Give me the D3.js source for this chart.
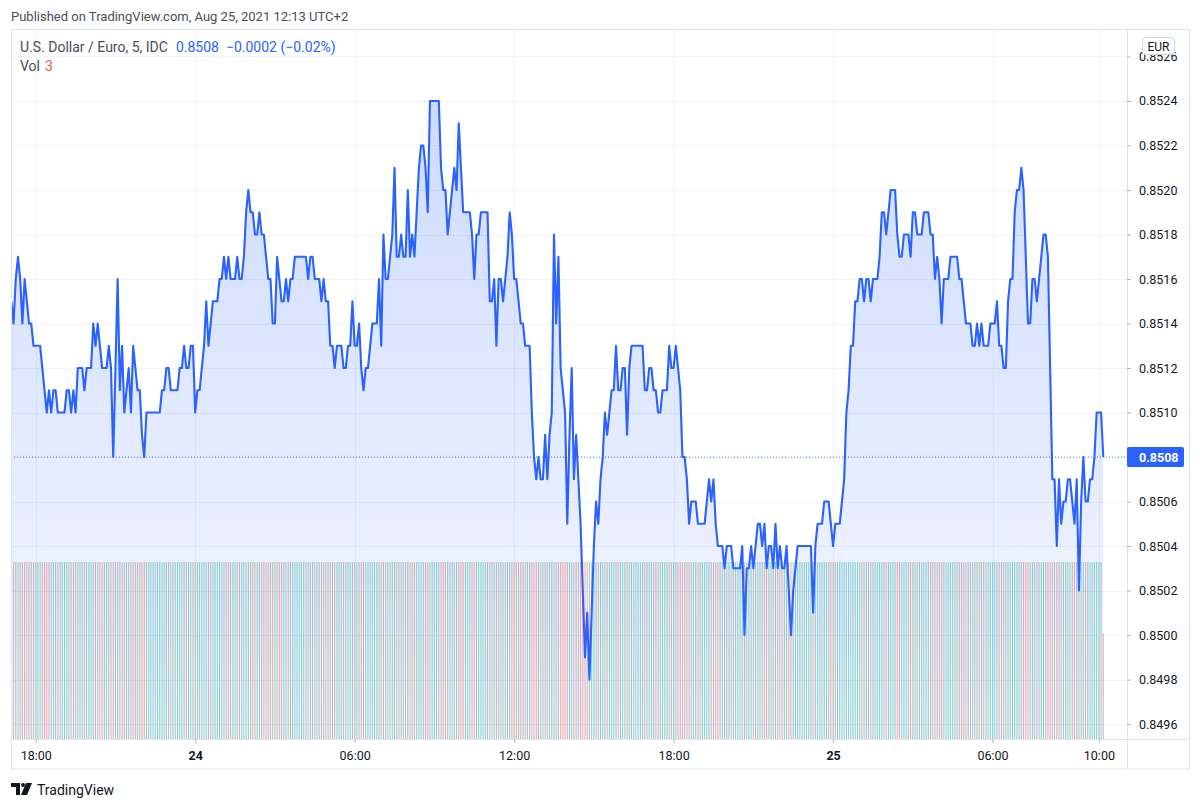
<!DOCTYPE html>
<html><head><meta charset="utf-8">
<script src="https://cdn.jsdelivr.net/npm/d3@7"></script>
<style>
html,body{margin:0;padding:0;background:#fff;}
svg{display:block;font-family:Roboto,"Noto Sans",sans-serif;}
</style></head><body>
<svg id="c" width="1200" height="808"></svg>
<script>
// ---- data (5-minute bars, USD/EUR close, Aug 23 17:05 -> Aug 25 10:10 UTC+2) ----
const firstBar = "2021-08-23T17:05";
const closes = [
0.8515,0.8514,0.8516,0.8517,0.8516,0.8514,0.8516,0.8515,0.8514,0.8514,
0.8513,0.8513,0.8513,0.8513,0.8512,0.8511,0.8510,0.8511,0.8510,0.8511,
0.8511,0.8510,0.8510,0.8510,0.8510,0.8511,0.8511,0.8510,0.8511,0.8510,
0.8512,0.8512,0.8512,0.8511,0.8512,0.8512,0.8512,0.8514,0.8513,0.8514,
0.8513,0.8512,0.8512,0.8512,0.8513,0.8512,0.8508,0.8512,0.8516,0.8511,
0.8513,0.8510,0.8511,0.8512,0.8510,0.8513,0.8512,0.8511,0.8511,0.8509,
0.8508,0.8510,0.8510,0.8510,0.8510,0.8510,0.8510,0.8510,0.8511,0.8511,
0.8512,0.8512,0.8511,0.8511,0.8511,0.8511,0.8512,0.8512,0.8513,0.8512,
0.8512,0.8513,0.8513,0.8510,0.8511,0.8511,0.8512,0.8513,0.8515,0.8513,
0.8514,0.8515,0.8515,0.8515,0.8516,0.8516,0.8517,0.8516,0.8517,0.8516,
0.8516,0.8516,0.8517,0.8516,0.8516,0.8517,0.8519,0.8520,0.8519,0.8519,
0.8518,0.8518,0.8519,0.8518,0.8518,0.8517,0.8516,0.8516,0.8514,0.8514,
0.8517,0.8516,0.8515,0.8515,0.8516,0.8515,0.8516,0.8516,0.8517,0.8517,
0.8517,0.8517,0.8517,0.8517,0.8516,0.8517,0.8517,0.8516,0.8516,0.8516,
0.8515,0.8516,0.8515,0.8515,0.8513,0.8513,0.8512,0.8513,0.8513,0.8513,
0.8512,0.8512,0.8513,0.8513,0.8515,0.8513,0.8513,0.8514,0.8512,0.8511,
0.8512,0.8512,0.8513,0.8514,0.8514,0.8514,0.8516,0.8513,0.8518,0.8516,
0.8516,0.8517,0.8518,0.8521,0.8517,0.8517,0.8518,0.8517,0.8517,0.8520,
0.8517,0.8518,0.8517,0.8519,0.8521,0.8522,0.8522,0.8521,0.8519,0.8524,
0.8524,0.8524,0.8524,0.8524,0.8521,0.8520,0.8520,0.8518,0.8519,0.8520,
0.8521,0.8520,0.8523,0.8521,0.8519,0.8519,0.8519,0.8519,0.8518,0.8516,
0.8518,0.8518,0.8519,0.8519,0.8519,0.8519,0.8515,0.8515,0.8516,0.8513,
0.8516,0.8516,0.8515,0.8516,0.8517,0.8519,0.8518,0.8516,0.8516,0.8515,
0.8514,0.8514,0.8513,0.8513,0.8513,0.8510,0.8508,0.8507,0.8508,0.8507,
0.8507,0.8509,0.8507,0.8509,0.8510,0.8518,0.8514,0.8517,0.8512,0.8511,
0.8510,0.8505,0.8509,0.8512,0.8507,0.8509,0.8507,0.8505,0.8502,0.8499,
0.8501,0.8498,0.8501,0.8504,0.8506,0.8505,0.8507,0.8508,0.8510,0.8509,
0.8510,0.8511,0.8511,0.8513,0.8511,0.8511,0.8512,0.8512,0.8509,0.8512,
0.8513,0.8513,0.8513,0.8513,0.8513,0.8513,0.8511,0.8511,0.8512,0.8512,
0.8511,0.8511,0.8510,0.8510,0.8511,0.8511,0.8511,0.8513,0.8512,0.8512,
0.8513,0.8512,0.8511,0.8508,0.8508,0.8507,0.8505,0.8506,0.8506,0.8506,
0.8505,0.8505,0.8505,0.8505,0.8506,0.8507,0.8506,0.8507,0.8505,0.8504,
0.8504,0.8504,0.8503,0.8504,0.8504,0.8504,0.8503,0.8503,0.8503,0.8503,
0.8504,0.8500,0.8503,0.8503,0.8504,0.8503,0.8504,0.8505,0.8505,0.8504,
0.8505,0.8503,0.8504,0.8504,0.8503,0.8505,0.8503,0.8504,0.8503,0.8503,
0.8504,0.8502,0.8500,0.8502,0.8503,0.8504,0.8504,0.8504,0.8504,0.8504,
0.8504,0.8504,0.8501,0.8504,0.8505,0.8505,0.8505,0.8506,0.8506,0.8506,
0.8505,0.8504,0.8505,0.8505,0.8505,0.8506,0.8507,0.8510,0.8511,0.8513,
0.8513,0.8515,0.8515,0.8516,0.8516,0.8515,0.8516,0.8516,0.8515,0.8516,
0.8516,0.8516,0.8517,0.8519,0.8519,0.8518,0.8519,0.8520,0.8520,0.8520,
0.8518,0.8517,0.8517,0.8518,0.8518,0.8518,0.8517,0.8519,0.8519,0.8518,
0.8518,0.8518,0.8519,0.8519,0.8519,0.8518,0.8518,0.8516,0.8517,0.8516,
0.8514,0.8516,0.8516,0.8516,0.8517,0.8517,0.8517,0.8517,0.8516,0.8516,
0.8515,0.8514,0.8514,0.8514,0.8513,0.8513,0.8514,0.8513,0.8514,0.8513,
0.8513,0.8513,0.8514,0.8514,0.8514,0.8515,0.8513,0.8513,0.8512,0.8512,
0.8515,0.8516,0.8516,0.8519,0.8520,0.8520,0.8521,0.8520,0.8517,0.8514,
0.8514,0.8516,0.8516,0.8515,0.8516,0.8517,0.8518,0.8518,0.8517,0.8512,
0.8507,0.8507,0.8504,0.8507,0.8505,0.8506,0.8506,0.8507,0.8507,0.8506,
0.8505,0.8507,0.8502,0.8506,0.8508,0.8506,0.8506,0.8507,0.8507,0.8508,
0.8510,0.8510,0.8510,0.8508
];
const volumes = [
5,5,5,5,5,5,5,5,5,5,5,5,5,5,5,5,5,5,5,5,
5,5,5,5,5,5,5,5,5,5,5,5,5,5,5,5,5,5,5,5,
5,5,5,5,5,5,5,5,5,5,5,5,5,5,5,5,5,5,5,5,
5,5,5,5,5,5,5,5,5,5,5,5,5,5,5,5,5,5,5,5,
5,5,5,5,5,5,5,5,5,5,5,5,5,5,5,5,5,5,5,5,
5,5,5,5,5,5,5,5,5,5,5,5,5,5,5,5,5,5,5,5,
5,5,5,5,5,5,5,5,5,5,5,5,5,5,5,5,5,5,5,5,
5,5,5,5,5,5,5,5,5,5,5,5,5,5,5,5,5,5,5,5,
5,5,5,5,5,5,5,5,5,5,5,5,5,5,5,5,5,5,5,5,
5,5,5,5,5,5,5,5,5,5,5,5,5,5,5,5,5,5,5,5,
5,5,5,5,5,5,5,5,5,5,5,5,5,5,5,5,5,5,5,5,
5,5,5,5,5,5,5,5,5,5,5,5,5,5,5,5,5,5,5,5,
5,5,5,5,5,5,5,5,5,5,5,5,5,5,5,5,5,5,5,5,
5,5,5,5,5,5,5,5,5,5,5,5,5,5,5,5,5,5,5,5,
5,5,5,5,5,5,5,5,5,5,5,5,5,5,5,5,5,5,5,5,
5,5,5,5,5,5,5,5,5,5,5,5,5,5,5,5,5,5,5,5,
5,5,5,5,5,5,5,5,5,5,5,5,5,5,5,5,5,5,5,5,
5,5,5,5,5,5,5,5,5,5,5,5,5,5,5,5,5,5,5,5,
5,5,5,5,5,5,5,5,5,5,5,5,5,5,5,5,5,5,5,5,
5,5,5,5,5,5,5,5,5,5,5,5,5,5,5,5,5,5,5,5,
5,5,5,5,5,5,5,5,5,5,5,5,5,5,5,5,5,5,5,5,
5,5,5,5,5,5,5,5,5,5,5,5,5,5,5,5,5,5,5,5,
5,5,5,5,5,5,5,5,5,5,5,5,5,5,5,5,5,5,5,5,
5,5,5,5,5,5,5,5,5,5,5,5,5,5,5,5,5,5,5,5,
5,5,5,5,5,5,5,5,5,5,5,5,5,3
];
const priceTicks = [0.8496,0.8498,0.8500,0.8502,0.8504,0.8506,0.8508,0.8510,0.8512,0.8514,0.8516,0.8518,0.8520,0.8522,0.8524,0.8526];
const timeTicks = ["2021-08-23T18:00","2021-08-24T00:00","2021-08-24T06:00","2021-08-24T12:00","2021-08-24T18:00","2021-08-25T00:00","2021-08-25T06:00","2021-08-25T10:00"];
const timeTickLabels = ["18:00","24","06:00","12:00","18:00","25","06:00","10:00"];
const lastPrice = 0.8508;
const legendTitle = "U.S. Dollar / Euro, 5, IDC";
const legendChange = "\u22120.0002 (\u22120.02%)";
const lastVolume = 3;

// ---- layout ----
const L = 11, R = 1127, T = 30, B = 739, AX_R = 1189, AX_B = 769;
const BAR_MS = 5*60*1000;
const parse = d3.utcParse("%Y-%m-%dT%H:%M");
const t0 = parse(firstBar).getTime();
const bars = closes.map((c,i)=>({t:new Date(t0+i*BAR_MS), c, v:volumes[i], up: i===0 ? true : c>=closes[i-1]}));

const x = d3.scaleUtc().domain([new Date(t0-0.15*BAR_MS), new Date(t0+503.7*BAR_MS)]).range([L,R]);
const y = d3.scaleLinear().domain([0.849533,0.852719]).range([B,T]);
const vy = d3.scaleLinear().domain([0,d3.max(volumes)]).range([B,562]);

const svg = d3.select("#c");
const defs = svg.append("defs");
defs.append("clipPath").attr("id","clip").append("rect").attr("x",L).attr("y",T).attr("width",R-L).attr("height",B-T);
defs.append("clipPath").attr("id","yclip").append("rect").attr("x",R).attr("y",T).attr("width",AX_R-R).attr("height",B-T);
const grad = defs.append("linearGradient").attr("id","g").attr("gradientUnits","userSpaceOnUse")
  .attr("x1",0).attr("x2",0).attr("y1",T).attr("y2",B);
grad.append("stop").attr("offset",0).attr("stop-color","#2962ff").attr("stop-opacity",0.25);
grad.append("stop").attr("offset",1).attr("stop-color","#2962ff").attr("stop-opacity",0.04);

// header
svg.append("text").attr("x",11).attr("y",21).attr("font-size",13).attr("fill","#4a4e5a")
  .text("Published on TradingView.com, Aug 25, 2021 12:13 UTC+2");

// grid
const grid = svg.append("g");
grid.selectAll(".h").data(priceTicks).join("line")
  .attr("x1",L).attr("x2",R).attr("y1",d=>Math.round(y(d))+0.5).attr("y2",d=>Math.round(y(d))+0.5)
  .attr("stroke","#f0f3fa").attr("stroke-width",1);
grid.selectAll(".v").data(timeTicks).join("line")
  .attr("y1",T).attr("y2",B).attr("x1",d=>Math.round(x(parse(d)))+0.5).attr("x2",d=>Math.round(x(parse(d)))+0.5)
  .attr("stroke","#f0f3fa").attr("stroke-width",1);

const plot = svg.append("g").attr("clip-path","url(#clip)");
// area
plot.append("path").datum(bars)
  .attr("d", d3.area().x(d=>x(d.t)).y0(B).y1(d=>y(d.c)))
  .attr("fill","url(#g)");
// volume
plot.selectAll(".vol").data(bars).join("rect")
  .attr("x",d=>x(d.t)-0.5).attr("width",1)
  .attr("y",d=>vy(d.v)).attr("height",d=>B-vy(d.v))
  .attr("fill",d=>d.up ? "rgba(38,166,154,0.5)" : "rgba(239,83,80,0.5)");
// last price dotted line
plot.append("line").attr("x1",L).attr("x2",R).attr("y1",y(lastPrice)).attr("y2",y(lastPrice))
  .attr("stroke","#2962ff").attr("stroke-width",1).attr("stroke-dasharray","1,2").attr("opacity",0.8);
// line
plot.append("path").datum(bars)
  .attr("d", d3.line().x(d=>x(d.t)).y(d=>y(d.c)))
  .attr("fill","none").attr("stroke","#2962ff").attr("stroke-width",2.1).attr("stroke-linejoin","round");

// frame
svg.append("rect").attr("x",L+0.5).attr("y",T-0.5).attr("width",AX_R-L).attr("height",AX_B-T+0.5)
  .attr("fill","none").attr("stroke","#e0e3eb");
svg.append("line").attr("x1",R+0.5).attr("x2",R+0.5).attr("y1",T).attr("y2",AX_B).attr("stroke","#e0e3eb");
svg.append("line").attr("x1",L).attr("x2",AX_R).attr("y1",B+0.5).attr("y2",B+0.5).attr("stroke","#e0e3eb");

// y axis (labels above the pane top are clipped, as in the reference)
const ya = svg.append("g").attr("clip-path","url(#yclip)").append("g").attr("transform",`translate(${R},0)`)
  .call(d3.axisRight(y).tickValues(priceTicks).tickFormat(d3.format(".4f")).tickSize(4).tickPadding(8));
ya.select(".domain").remove();
ya.selectAll("line").attr("stroke","#b2b5be");
ya.selectAll("text").attr("font-size",12.5).attr("fill","#131722").attr("font-family","Roboto,sans-serif");

// x axis
const xa = svg.append("g").attr("transform",`translate(0,${B})`)
  .call(d3.axisBottom(x).tickValues(timeTicks.map(parse)).tickFormat((d,i)=>timeTickLabels[i]).tickSize(4).tickPadding(8));
xa.select(".domain").remove();
xa.selectAll("line").attr("stroke","#b2b5be");
xa.selectAll("text").attr("font-size",12.5).attr("fill","#131722").attr("font-family","Roboto,sans-serif")
  .attr("font-weight",(d,i)=>/:/.test(timeTickLabels[i]) ? 400 : 700);

// EUR box
svg.append("rect").attr("x",1142.5).attr("y",37.5).attr("width",32).attr("height",17).attr("rx",3)
  .attr("fill","#fff").attr("stroke","#d1d4dc");
svg.append("text").attr("x",1158.5).attr("y",50.5).attr("text-anchor","middle").attr("font-size",12).attr("fill","#131722").text("EUR");

// last price label
const ly = y(lastPrice);
svg.append("rect").attr("x",R).attr("y",ly-10).attr("width",57).attr("height",20).attr("rx",2).attr("fill","#2962ff");
svg.append("text").attr("x",R+12).attr("y",ly+4.5).attr("font-size",12.5).attr("font-weight",700).attr("fill","#fff")
  .text(d3.format(".4f")(lastPrice));

// legend
const lg = svg.append("text").attr("x",20).attr("y",52).attr("font-size",14);
lg.append("tspan").attr("fill","#4a4e5a").text(legendTitle);
lg.append("tspan").attr("dx",8).attr("fill","#2962ff").text(d3.format(".4f")(lastPrice));
lg.append("tspan").attr("dx",7).attr("fill","#2962ff").text(legendChange);
const lv = svg.append("text").attr("x",20).attr("y",71).attr("font-size",14);
lv.append("tspan").attr("fill","#4a4e5a").text("Vol");
lv.append("tspan").attr("dx",5).attr("fill","#ef5350").text(lastVolume);

// TradingView logo
const logo = svg.append("g").attr("transform","translate(11,783)").attr("fill","#131722");
logo.append("path").attr("d","M0 0 H9 V12 H5 V4 H0 Z");
logo.append("circle").attr("cx",12).attr("cy",2).attr("r",2);
logo.append("path").attr("d","M15 0 H21 L16 12 H10 Z");
svg.append("text").attr("x",37).attr("y",794.5).attr("font-size",14).attr("fill","#131722").text("TradingView");
</script>
</body></html>
